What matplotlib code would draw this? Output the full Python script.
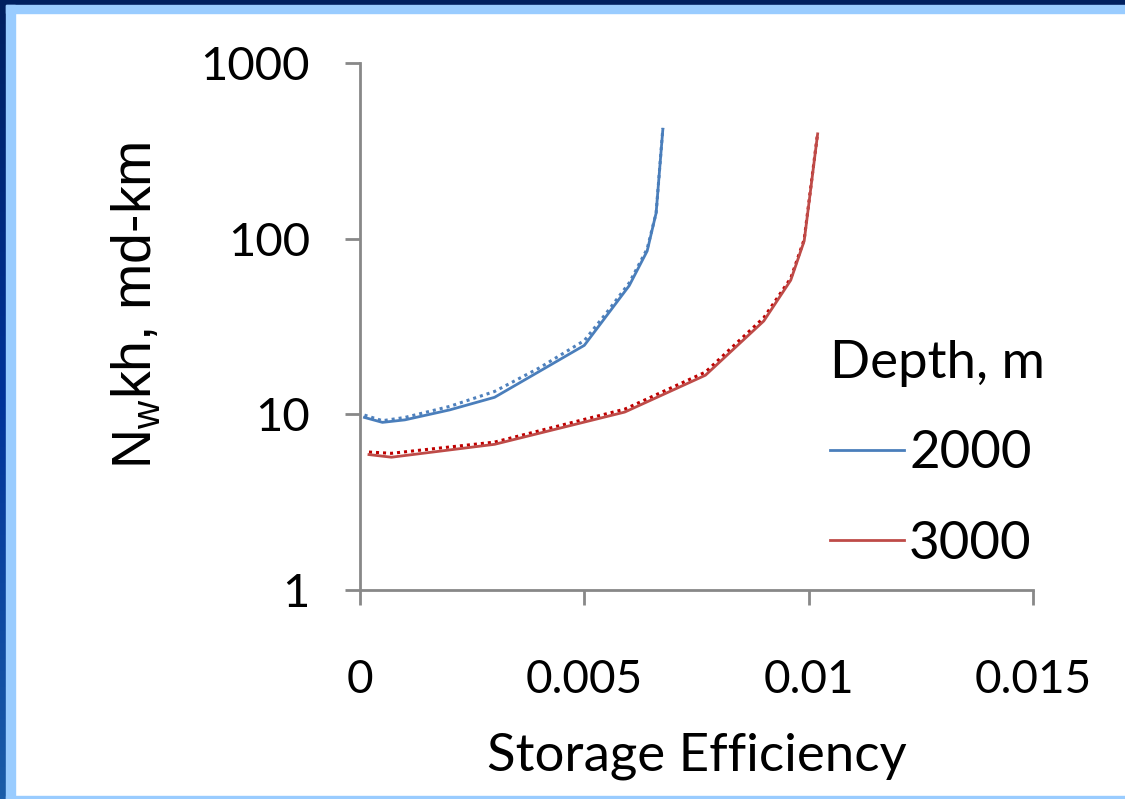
import numpy as np
import matplotlib
matplotlib.use("Agg")
import matplotlib.pyplot as plt
from matplotlib.patches import Rectangle
from matplotlib.lines import Line2D
from matplotlib.colors import LinearSegmentedColormap

# -- Data ------------------------------------------------------------------
x_2000 = [0.0001, 0.0005, 0.001, 0.002, 0.003, 0.005, 0.006, 0.0064, 0.0066, 0.00675]
y_2000 = [9.6, 9.0, 9.3, 10.6, 12.5, 24.7, 54, 85, 140, 420]

x_2000_fit = [0.0001, 0.0005, 0.001, 0.002, 0.003, 0.004, 0.005, 0.0055, 0.006, 0.0064, 0.0066, 0.00675]
y_2000_fit = [9.9, 9.2, 9.6, 11.1, 13.5, 18.4, 26.3, 38, 56, 87.5, 140, 425]

x_3000 = [0.0002, 0.0007, 0.003, 0.0059, 0.0077, 0.009, 0.0096, 0.0099, 0.0102]
y_3000 = [5.9, 5.7, 6.75, 10.3, 16.7, 34, 58, 97, 395]

x_3000_fit = [0.0002, 0.0007, 0.003, 0.0059, 0.0077, 0.009, 0.0096, 0.0099, 0.0102]
y_3000_fit = [6.1, 6.0, 6.95, 10.7, 17.4, 35.5, 59.5, 99, 400]

xticks = [0, 0.005, 0.01, 0.015]
xtick_labels = ["0", "0.005", "0.01", "0.015"]
yticks = [1, 10, 100, 1000]
ytick_labels = ["1", "10", "100", "1000"]

W, H = 1125, 799
BLUE = "#4A7EBB"
RED = "#BE4B48"
GREY = "#888888"

plt.rcParams["mathtext.fontset"] = "custom"
plt.rcParams["mathtext.rm"] = "Liberation Sans"

fig = plt.figure(figsize=(W / 100, H / 100), dpi=100)

# -- slide frame ------------------------------------------------------------
fig.patches.append(Rectangle((0, 1 - 5 / H), 1, 5 / H, transform=fig.transFigure,
                             color="#002060", zorder=0))
fig.patches.append(Rectangle((6 / W, 1 - 13 / H), 1, 8 / H, transform=fig.transFigure,
                             color="#99CCFF", zorder=0))
fig.patches.append(Rectangle((6 / W, 0), 9 / W, 1 - 5 / H, transform=fig.transFigure,
                             color="#99CCFF", zorder=0))
fig.patches.append(Rectangle((6 / W, 0), 1, 3 / H, transform=fig.transFigure,
                             color="#99CCFF", zorder=0))
strip = fig.add_axes([0, 0, 6 / W, 1])
strip.imshow(np.linspace(0, 1, 200).reshape(-1, 1), aspect="auto",
             cmap=LinearSegmentedColormap.from_list("edge", ["#002060", "#003399", "#1A5CA8"]))
strip.set_axis_off()

# -- main axes --------------------------------------------------------------
ax = fig.add_axes([360 / W, 1 - 590 / H, (1033 - 360) / W, (590 - 63) / H])

ax.plot(x_2000, y_2000, color=BLUE, lw=2.0, label="2000", zorder=3)
ax.plot(x_2000_fit, y_2000_fit, color="#4F81BD", lw=2.2, ls=(0, (1, 1.3)), zorder=2)
ax.plot(x_3000, y_3000, color=RED, lw=2.0, label="3000", zorder=3)
ax.plot(x_3000_fit, y_3000_fit, color="#C00000", lw=2.2, ls=(0, (1, 1.3)), zorder=2)

ax.set_yscale("log")
ax.set_xlim(0, 0.015)
ax.set_ylim(1, 1000)
ax.set_xticks(xticks)
ax.set_xticklabels(xtick_labels)
ax.set_yticks(yticks)
ax.set_yticklabels(ytick_labels)
ax.minorticks_off()

for side in ["top", "right"]:
    ax.spines[side].set_visible(False)
for side in ["left", "bottom"]:
    ax.spines[side].set_color(GREY)
    ax.spines[side].set_linewidth(2.0)

ax.tick_params(axis="both", direction="out", length=11, width=2.0, color=GREY)
ax.tick_params(axis="y", pad=25, labelsize=34)
ax.tick_params(axis="x", pad=39, labelsize=33)
for lab in ax.get_xticklabels() + ax.get_yticklabels():
    lab.set_family("Lato")

ax.set_xlabel("Storage Efficiency", fontsize=38, family="Lato")
ax.xaxis.set_label_coords(0.5, -0.27)

fig.text(136 / W, 1 - 305 / H, r"N$_\mathregular{w}$kh, md-km", rotation=90,
         ha="center", va="center", fontsize=40, family="Liberation Sans")

handles = [Line2D([], [], color=BLUE, lw=2.0), Line2D([], [], color=RED, lw=2.0)]
leg = ax.legend(handles, ["2000", "3000"], title="Depth, m", frameon=False,
                loc="upper left", bbox_to_anchor=(830 / W, 1 - 340 / H),
                bbox_transform=fig.transFigure, prop={"family": "Lato", "size": 38},
                title_fontproperties={"family": "Lato", "size": 38},
                handlelength=1.4, handletextpad=0.1, labelspacing=0.82,
                borderpad=0, borderaxespad=0, alignment="left")

fig.savefig("out.png", dpi=100)
